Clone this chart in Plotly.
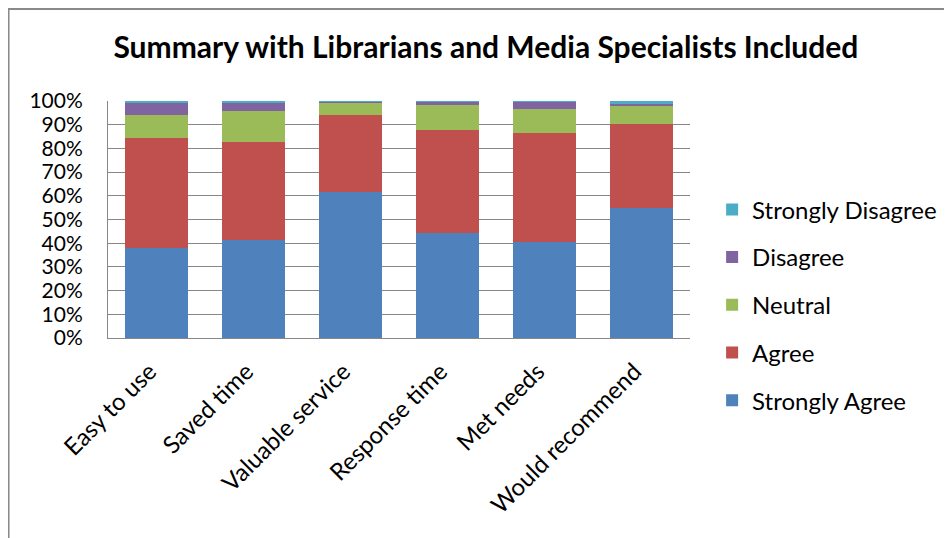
import plotly.graph_objects as go

categories = ["Easy to use", "Saved time", "Valuable service",
              "Response time", "Met needs", "Would recommend"]

strongly_agree = [38.0, 41.5, 61.6, 44.3, 40.5, 54.9]
agree = [46.6, 41.2, 32.7, 43.6, 45.8, 35.2]
neutral = [9.6, 13.2, 5.0, 10.5, 10.5, 7.6]
disagree = [5.0, 3.5, 0.6, 1.3, 2.9, 1.2]
strongly_disagree = [0.8, 0.6, 0.1, 0.3, 0.3, 1.1]

series = [
    ("Strongly Agree", strongly_agree, "#4F81BD"),
    ("Agree", agree, "#C0504D"),
    ("Neutral", neutral, "#9BBB59"),
    ("Disagree", disagree, "#8064A2"),
    ("Strongly Disagree", strongly_disagree, "#4BACC6"),
]

font_family = "Lato, 'Noto Sans', sans-serif"
grid = "#878787"

fig = go.Figure()
for i, (name, vals, color) in enumerate(series):
    fig.add_trace(go.Bar(
        x=categories, y=vals, name=name,
        marker_color=color, marker_line_width=0,
        legendgroup=name, legendrank=1000 - i,
    ))

# the page body has an 8px margin, so everything is shifted up/left by 8px
fig.update_layout(
    barmode="stack",
    barnorm="percent",
    bargap=0.36,
    width=952, height=538,
    margin=dict(l=100, r=270, t=93, b=208),
    paper_bgcolor="white",
    plot_bgcolor="white",
    font=dict(family=font_family, size=22, color="black"),
    title=dict(
        text="<b>Summary with Librarians and Media Specialists Included</b>",
        x=0.502, xanchor="center", y=0.926, yanchor="middle",
        font=dict(size=30, family=font_family, color="black"),
    ),
    legend=dict(
        tracegroupgap=13.5,
        x=1.038, xanchor="left", y=0.14, yanchor="middle",
        font=dict(size=24, family=font_family),
        bgcolor="rgba(0,0,0,0)",
        maxheight=1,
    ),
    showlegend=True,
)

fig.update_yaxes(
    range=[0, 100], dtick=10, ticksuffix="%",
    showgrid=True, gridcolor=grid, gridwidth=1,
    showline=True, linecolor=grid, linewidth=1,
    zeroline=False, ticks="", ticklabelstandoff=20,
    tickfont=dict(size=21),
)
fig.update_xaxes(
    tickangle=-45, showline=True, linecolor=grid, linewidth=1,
    ticks="", tickfont=dict(size=24),
    ticklabelstandoff=9, ticklabelshift=-7,
)

# outer chart frame
fig.add_shape(
    type="rect", xref="paper", yref="paper",
    x0=-0.1709, x1=1.6, y0=-1.2, y1=1.388,
    line=dict(color="#8a8a8a", width=2), fillcolor="rgba(0,0,0,0)",
)

fig.write_html("out.html")
